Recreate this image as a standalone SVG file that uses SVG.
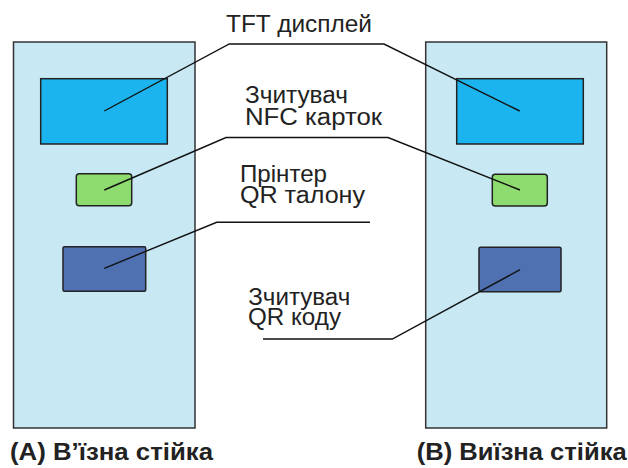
<svg xmlns="http://www.w3.org/2000/svg" width="628" height="468" viewBox="0 0 628 468">
<style>
.panel{fill:#c8e8f4;stroke:#333;stroke-width:1.5}
.tft{fill:#1cb4ee;stroke:#222;stroke-width:1.5}
.nfc{fill:#8edc70;stroke:#222;stroke-width:1.5}
.qr{fill:#4f70b1;stroke:#222;stroke-width:1.5}
.lead{fill:none;stroke:#111;stroke-width:1.4}
.lbl{font-family:"Liberation Sans",Arial,sans-serif;font-size:23px;fill:#222}
.cap{font-family:"Liberation Sans",Arial,sans-serif;font-size:23px;font-weight:bold;fill:#222}
</style>
<rect width="628" height="468" fill="#fff"/>
<g id="standA">
<rect class="panel" x="13.5" y="42" width="181.5" height="386"/>
</g>
<g id="standB">
<rect class="panel" x="425.7" y="42" width="181" height="386"/>
</g>
<g id="tftA"><rect class="tft" x="40.7" y="78.7" width="126.6" height="65.3"/></g>
<g id="tftB"><rect class="tft" x="456.7" y="78.7" width="126.6" height="65.3"/></g>
<g id="nfcA"><rect class="nfc" x="76.3" y="173.7" width="55.4" height="32" rx="3"/></g>
<g id="nfcB"><rect class="nfc" x="492.3" y="174.3" width="55" height="31.7" rx="3"/></g>
<g id="printerA"><rect class="qr" x="63" y="246.7" width="82.7" height="44.6" rx="1.5"/></g>
<g id="qrReaderB"><rect class="qr" x="479" y="247.3" width="82" height="44.4" rx="1.5"/></g>
<g id="connectors">
<polyline class="lead" points="104.3,111 229.3,44 384,44 519.7,111"/>
<polyline class="lead" points="104.3,190 226,137.5 388,137.5 520,190"/>
<polyline class="lead" points="104.3,268.3 216.7,222.3 370,222.3"/>
<polyline class="lead" points="520,269.7 392.3,339 263,339"/>
</g>
<g id="labels">
<text class="lbl" x="226" y="32.3" textLength="146" lengthAdjust="spacingAndGlyphs">TFT дисплей</text>
<text class="lbl" x="245" y="103.3" textLength="103" lengthAdjust="spacingAndGlyphs">Зчитувач</text>
<text class="lbl" x="245" y="125" textLength="137" lengthAdjust="spacingAndGlyphs">NFC карток</text>
<text class="lbl" x="240" y="181.7" textLength="87" lengthAdjust="spacingAndGlyphs">Прінтер</text>
<text class="lbl" x="240" y="203.3" textLength="125" lengthAdjust="spacingAndGlyphs">QR талону</text>
<text class="lbl" x="248.3" y="305" textLength="102" lengthAdjust="spacingAndGlyphs">Зчитувач</text>
<text class="lbl" x="248" y="325" textLength="93" lengthAdjust="spacingAndGlyphs">QR коду</text>
<text class="cap" x="10" y="460" textLength="203" lengthAdjust="spacingAndGlyphs">(A) В’їзна стійка</text>
<text class="cap" x="416.7" y="460" textLength="210" lengthAdjust="spacingAndGlyphs">(B) Виїзна стійка</text>
</g>
</svg>
